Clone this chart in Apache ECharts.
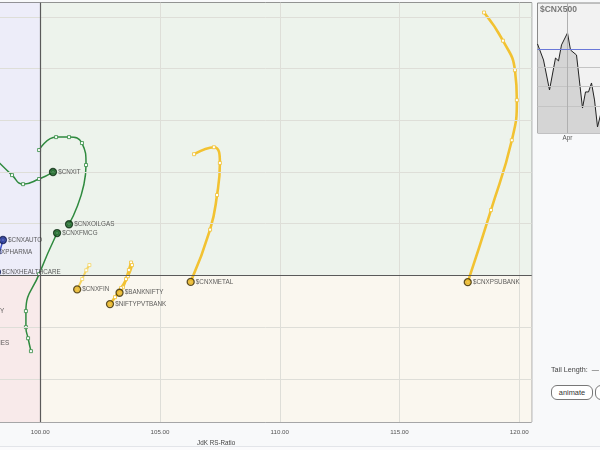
<!DOCTYPE html>
<html>
<head>
<meta charset="utf-8">
<script src="https://cdn.jsdelivr.net/npm/echarts@6/dist/echarts.min.js"></script>
<style>
html,body{margin:0;padding:0;background:#f8f9fa;}
#wrap{position:relative;width:600px;height:450px;overflow:hidden;font-family:"Liberation Sans",Arial,sans-serif;}
#chart{position:absolute;left:0;top:0;width:600px;height:450px;}
#foot{position:absolute;left:0;top:446px;width:600px;height:4px;background:#fbfbfc;border-top:1px solid #e3e5e9;}
#tail{position:absolute;left:551px;top:365px;font-size:7.2px;color:#444;white-space:nowrap;}
.btn{position:absolute;top:385px;height:13px;border:1px solid #777;border-radius:6px;background:#fff;font-size:7.4px;color:#333;line-height:13px;text-align:center;}
</style>
</head>
<body>
<div id="wrap">
<div id="chart"></div>
<div id="foot"></div>
<div id="tail">Tail Length:&nbsp; &mdash;</div>
<div class="btn" style="left:551px;width:40px;">animate</div>
<div class="btn" style="left:595px;width:30px;"></div>
</div>
<script>
// ---- RRG data (JdK RS-Ratio, JdK RS-Momentum), tail -> head ----
const itTrail = [[97.98,104.65],[98.82,103.88],[99.28,103.53],[99.95,103.73],[100.53,104.00]];
const oilgasTrail = [[99.95,104.85],[100.66,105.35],[101.20,105.35],[101.74,105.12],[101.91,104.27],[101.20,101.98]];
const fmcgTrail = [[99.61,97.07],[99.49,97.57],[99.40,98.00],[99.40,98.62],[99.95,100.05],[100.70,101.64]];
const autoTrail = [[98.05,100.30],[98.20,100.62],[98.30,100.90],[98.44,101.37]];
const pharmaTrail = [[97.20,100.50],[97.40,100.75],[97.62,100.91]];
const healthTrail = [[97.80,99.70],[98.00,99.90],[98.19,100.13]];
const realtyTrail = [[96.00,98.20],[96.30,98.40],[96.57,98.62]];
const commodTrail = [[95.50,97.00],[95.70,97.20],[95.90,97.38]];
const finTrail = [[102.05,100.40],[101.92,100.20],[101.75,99.86],[101.54,99.46]];
const bankniftyTrail = [[103.79,100.50],[103.70,100.21],[103.58,99.86],[103.45,99.54],[103.31,99.33]];
const pvtbankTrail = [[103.83,100.40],[103.66,99.97],[103.37,99.51],[103.12,99.16],[102.91,98.89]];
const metalTrail = [[106.42,104.69],[107.25,104.96],[107.50,104.35],[107.38,103.11],[107.09,101.77],[106.28,99.75]];
const psubankTrail = [[118.53,110.17],[119.32,109.08],[119.82,107.94],[119.90,106.78],[119.69,105.23],[118.82,102.53],[117.85,99.74]];

const leadingNames = ['$CNXIT','$CNXOILGAS','$CNXFMCG'];
const leadingTrails = [itTrail, oilgasTrail, fmcgTrail];
const improvingNames = ['$CNXAUTO','$CNXPHARMA','$CNXHEALTHCARE'];
const improvingTrails = [autoTrail, pharmaTrail, healthTrail];
const laggingNames = ['$CNXREALTY','$CNXCOMMODITIES'];
const laggingTrails = [realtyTrail, commodTrail];
const weakeningNames = ['$CNXFIN','$BANKNIFTY','$NIFTYPVTBANK','$CNXMETAL','$CNXPSUBANK'];
const weakeningTrails = [finTrail, bankniftyTrail, pvtbankTrail, metalTrail, psubankTrail];

// grid / tick values
const xGridValues = [105, 110, 115, 120];
const yGridValues = [96, 98, 102, 104, 106, 108, 110];
const centerValue = 100;

// ---- $CNX500 mini chart ----
const miniDays = [0, 2, 4, 6, 7, 8, 10, 11, 13, 15, 16, 17, 18, 19, 20, 21];
const miniClose = [13936, 13772, 13464, 13792, 13762, 13926, 14049, 13874, 13823, 13279, 13444, 13444, 13536, 13362, 13085, 13208];
const miniRef = 13885;
const miniGrid = [13300, 13500, 13700];
const miniAprDay = 10;

const X_MIN = 95, X_MAX = 120.52, Y_MIN = 94.33, Y_MAX = 110.55;
const FONT = '"Liberation Sans", Arial, sans-serif';

const chart = echarts.init(document.getElementById('chart'), null, {renderer: 'canvas'});

function trailSeries(trails, color, width) {
  return trails.map((t, i) => {
    const c = (typeof color === 'function') ? color(i) : color;
    const w = (typeof width === 'function') ? width(i) : width;
    return {
      type: 'line', xAxisIndex: 0, yAxisIndex: 0, z: 3,
      data: t, smooth: 0.5, silent: true,
      symbol: 'rect', symbolSize: 3, showSymbol: true,
      lineStyle: {color: c, width: w},
      itemStyle: {color: '#ffffff', borderColor: c, borderWidth: 0.8},
      emphasis: {disabled: true}
    };
  });
}
function headSeries(names, trails, fill, border) {
  return {
    type: 'scatter', xAxisIndex: 0, yAxisIndex: 0, z: 5, silent: true,
    symbol: 'circle', symbolSize: 7,
    itemStyle: {color: fill, borderColor: border, borderWidth: 1.3},
    label: {show: true, position: 'right', distance: 1, formatter: p => p.data[2],
            fontSize: 6.3, color: '#333', fontFamily: FONT},
    data: names.map((n, i) => { const h = trails[i][trails[i].length - 1]; return [h[0], h[1], n]; })
  };
}

const gridLineStyle = {color: '#deded8', width: 1, type: 'solid'};
const centerLineStyle = {color: '#5a5a5a', width: 1.2, type: 'solid'};

const option = {
  animation: false,
  backgroundColor: 'transparent',
  title: {text: '$CNX500', left: 540, top: 5, padding: 0,
          textStyle: {fontSize: 8.5, fontWeight: 'bold', color: '#777', fontFamily: FONT}},
  grid: [
    {left: -79.45, top: 2.7, width: 611.15, height: 419.3, show: true, borderColor: '#555', borderWidth: 1,
     backgroundColor: 'transparent', containLabel: false, outerBoundsMode: 'none'},
    {left: 537.5, top: 3, width: 120, height: 130, show: true, borderColor: '#8a8a8a', borderWidth: 1,
     backgroundColor: '#f2f2f2', containLabel: false, outerBoundsMode: 'none'}
  ],
  xAxis: [
    {type: 'value', gridIndex: 0, min: X_MIN, max: X_MAX, interval: 5,
     axisLine: {show: false}, axisTick: {show: false}, splitLine: {show: false},
     axisLabel: {showMaxLabel: false, formatter: v => v.toFixed(2), fontSize: 6.2, color: '#555', margin: 7, fontFamily: FONT},
     name: 'JdK RS-Ratio', nameLocation: 'middle', nameGap: 12,
     nameTextStyle: {fontSize: 6.3, color: '#444', fontFamily: FONT, padding: [0, 20, 0, 0]}},
    {type: 'value', gridIndex: 1, min: 0, max: 40, interval: 10,
     axisLine: {show: false}, axisTick: {show: false}, splitLine: {show: false},
     axisLabel: {formatter: v => (v === miniAprDay ? 'Apr' : ''), fontSize: 6.3, color: '#555', margin: 2, fontFamily: FONT}}
  ],
  yAxis: [
    {type: 'value', gridIndex: 0, min: Y_MIN, max: Y_MAX,
     axisLine: {show: false}, axisTick: {show: false}, splitLine: {show: false}, axisLabel: {show: false}},
    {type: 'value', gridIndex: 1, min: 13023, max: 14356,
     axisLine: {show: false}, axisTick: {show: false}, splitLine: {show: false}, axisLabel: {show: false}}
  ],
  graphic: [
    {type: 'text', right: 70, top: 3.5, style: {text: 'Leading', fontSize: 8.7, fill: '#86c886', fontFamily: FONT}},
    {type: 'text', right: 70, top: 411, style: {text: 'Weakening', fontSize: 9, fontWeight: 'bold', fill: '#f2d04c', fontFamily: FONT}}
  ],
  series: [
    {type: 'line', xAxisIndex: 0, yAxisIndex: 0, data: [], z: 1, silent: true,
     markArea: {silent: true, data: [
       [{xAxis: X_MIN, yAxis: centerValue, itemStyle: {color: '#ededf9'}}, {xAxis: centerValue, yAxis: Y_MAX}],
       [{xAxis: centerValue, yAxis: centerValue, itemStyle: {color: '#edf3ec'}}, {xAxis: X_MAX, yAxis: Y_MAX}],
       [{xAxis: centerValue, yAxis: Y_MIN, itemStyle: {color: '#faf7ef'}}, {xAxis: X_MAX, yAxis: centerValue}],
       [{xAxis: X_MIN, yAxis: Y_MIN, itemStyle: {color: '#f8eaea'}}, {xAxis: centerValue, yAxis: centerValue}]
     ]},
     markLine: {silent: true, symbol: ['none', 'none'], label: {show: false}, lineStyle: gridLineStyle,
       data: xGridValues.map(v => ({xAxis: v})).concat(yGridValues.map(v => ({yAxis: v})))}
    },
    {type: 'line', xAxisIndex: 0, yAxisIndex: 0, data: [], z: 2, silent: true,
     markLine: {silent: true, symbol: ['none', 'none'], label: {show: false}, lineStyle: centerLineStyle,
       data: [{xAxis: centerValue}, {yAxis: centerValue}]}
    },
    ...trailSeries(leadingTrails, '#2f8a3f', 1.5),
    ...trailSeries(improvingTrails, '#3f52c8', 1.5),
    ...trailSeries(laggingTrails, '#d04848', 1.5),
    ...trailSeries(weakeningTrails, i => (i === 0 ? '#f4d462' : '#f2c232'), i => (i === 0 ? 2 : 2.6)),
    headSeries(leadingNames, leadingTrails, '#1e6a2a', '#0b2e12'),
    headSeries(improvingNames, improvingTrails, '#2b3c9c', '#101a55'),
    headSeries(laggingNames, laggingTrails, '#c23333', '#4a1010'),
    headSeries(weakeningNames, weakeningTrails, '#e8b628', '#3a2c05'),
    {type: 'line', xAxisIndex: 1, yAxisIndex: 1, z: 3, silent: true, symbol: 'none',
     data: miniDays.map((d, i) => [d, miniClose[i]]),
     lineStyle: {color: '#222', width: 1},
     areaStyle: {color: '#d5d5d5', opacity: 1, origin: 'start'},
     markLine: {silent: true, symbol: ['none', 'none'], label: {show: false},
       data: miniGrid.map(v => ({yAxis: v, lineStyle: {color: '#c4c4c4', width: 1, type: 'solid'}}))
         .concat([{xAxis: miniAprDay, lineStyle: {color: '#b0b0b0', width: 1, type: 'solid'}},
                  {yAxis: miniRef, lineStyle: {color: '#6a78d8', width: 1.2, type: 'solid'}}])}
    }
  ]
};
chart.setOption(option);
</script>
</body>
</html>
